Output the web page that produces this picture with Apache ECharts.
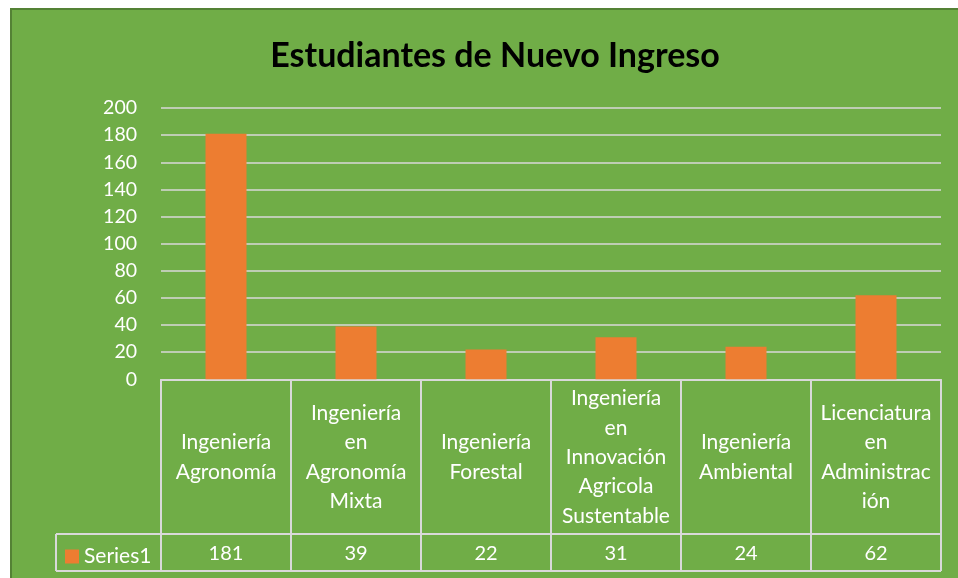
<!DOCTYPE html>
<html>
<head>
<meta charset="utf-8">
<script src="https://cdn.jsdelivr.net/npm/echarts@6/dist/echarts.min.js"></script>
<style>
html,body{margin:0;padding:0;background:#fff;width:958px;height:578px;overflow:hidden;}
#bg{position:absolute;left:10px;top:8px;width:948px;height:570px;background:#70AD47;border-left:2px solid #548235;border-top:2px solid #548235;box-sizing:border-box;}
#chart{position:absolute;left:0;top:0;width:958px;height:578px;}
</style>
</head>
<body>
<div id="bg"></div>
<div id="chart"></div>
<script>
const title = 'Estudiantes de Nuevo Ingreso';
const seriesName = 'Series1';
const categories = [
  'Ingeniería Agronomía',
  'Ingeniería en Agronomía Mixta',
  'Ingeniería Forestal',
  'Ingeniería en Innovación Agricola Sustentable',
  'Ingeniería Ambiental',
  'Licenciatura en Administración'
];
const categoryTickLabels = [
  'Ingeniería\nAgronomía',
  'Ingeniería\nen\nAgronomía\nMixta',
  'Ingeniería\nForestal',
  'Ingeniería\nen\nInnovación\nAgricola\nSustentable',
  'Ingeniería\nAmbiental',
  'Licenciatura\nen\nAdministrac\nión'
];
const values = [181, 39, 22, 31, 24, 62];
const yTicks = [0, 20, 40, 60, 80, 100, 120, 140, 160, 180, 200];

const FONT = 'Lato, "Open Sans", sans-serif';
const LINE = '#D9D9D9';
const GRID_L = 161, GRID_R = 941, GRID_T = 108, GRID_B = 379.3;
const TABLE_MID = 534, TABLE_BOT = 571, LEG_L = 56;

const chart = echarts.init(document.getElementById('chart'), null, {renderer: 'canvas'});
chart.setOption({
  backgroundColor: 'transparent',
  animation: false,
  title: {
    text: title,
    left: 490, top: 34, textAlign: 'center',
    textStyle: {fontFamily: FONT, fontSize: 34, fontWeight: 'bold', color: '#000'}
  },
  legend: {
    data: [seriesName],
    left: 65, top: 546, padding: 0,
    icon: 'rect', itemWidth: 14, itemHeight: 14, itemGap: 5,
    textStyle: {fontFamily: FONT, fontSize: 21, color: '#fff'}
  },
  grid: {left: GRID_L, right: 958 - GRID_R, top: GRID_T, bottom: 578 - GRID_B, containLabel: false},
  xAxis: [{
    type: 'category',
    data: categories,
    position: 'bottom',
    boundaryGap: true,
    axisLine: {show: true, lineStyle: {color: LINE, width: 2}},
    axisTick: {show: true, interval: 0, alignWithLabel: false, length: TABLE_BOT - GRID_B, lineStyle: {color: LINE, width: 2}},
    axisLabel: {
      interval: 0, margin: 78, verticalAlign: 'middle', align: 'center',
      fontFamily: FONT, fontSize: 21, lineHeight: 29.3, color: '#fff',
      formatter: (v, i) => categoryTickLabels[i]
    }
  }, {
    type: 'category',
    data: categories,
    position: 'bottom',
    gridIndex: 0,
    axisLine: {show: false},
    axisTick: {show: false},
    axisLabel: {
      interval: 0, margin: 174, verticalAlign: 'middle', align: 'center',
      fontFamily: FONT, fontSize: 20, color: '#fff',
      formatter: (v, i) => String(values[i])
    }
  }],
  yAxis: {
    type: 'value',
    min: yTicks[0], max: yTicks[yTicks.length - 1], interval: yTicks[1] - yTicks[0],
    axisLine: {show: false}, axisTick: {show: false},
    splitLine: {show: true, lineStyle: {color: LINE, width: 1.5}},
    axisLabel: {margin: 24, fontFamily: FONT, fontSize: 19.5, color: '#fff'}
  },
  series: [{
    name: seriesName,
    type: 'bar',
    data: values,
    barWidth: 41,
    itemStyle: {color: '#ED7D31'},
    xAxisIndex: 0
  }],
  graphic: [
    {type: 'line', shape: {x1: LEG_L, y1: TABLE_MID, x2: GRID_R, y2: TABLE_MID}, style: {stroke: LINE, lineWidth: 2}, z: 10},
    {type: 'line', shape: {x1: LEG_L, y1: TABLE_BOT, x2: GRID_R, y2: TABLE_BOT}, style: {stroke: LINE, lineWidth: 2}, z: 10},
    {type: 'line', shape: {x1: LEG_L, y1: TABLE_MID, x2: LEG_L, y2: TABLE_BOT}, style: {stroke: LINE, lineWidth: 2}, z: 10}
  ]
});
</script>
</body>
</html>
